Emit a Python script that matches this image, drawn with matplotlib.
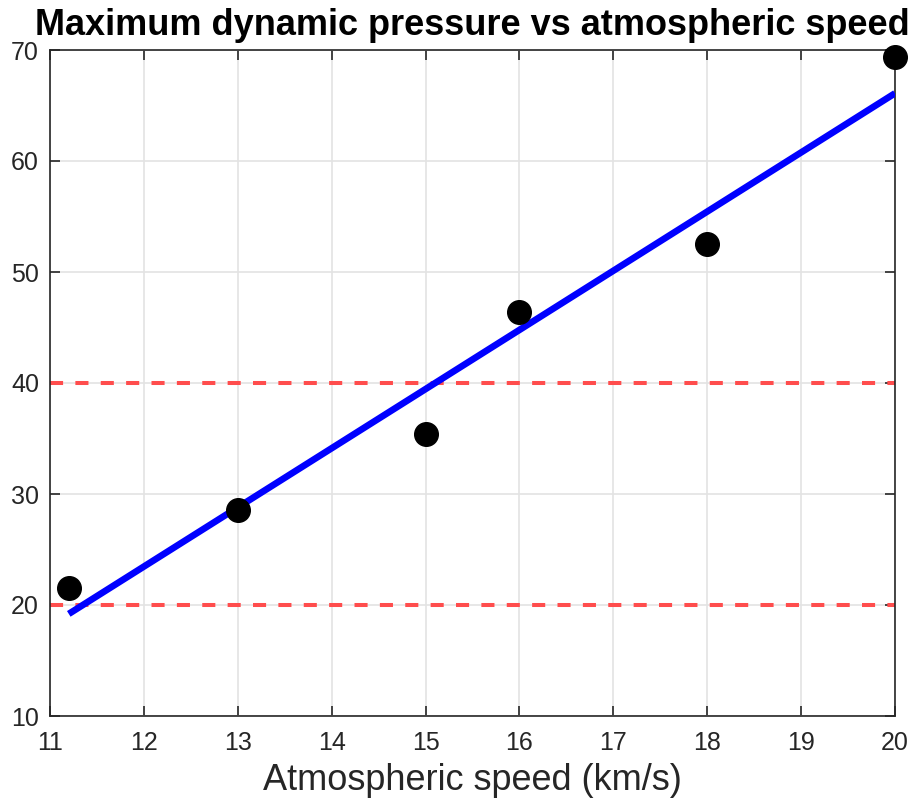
import matplotlib
matplotlib.use("Agg")
import matplotlib.pyplot as plt

speed = [11.2, 13, 15, 16, 18, 20]
pressure = [21.5, 28.6, 35.4, 46.4, 52.5, 69.4]
fit_x = [11.2, 20]
fit_y = [19.2, 66.1]
limit_levels = [20, 40]
xticks = [11, 12, 13, 14, 15, 16, 17, 18, 19, 20]
yticks = [10, 20, 30, 40, 50, 60, 70]

plt.rcParams['font.family'] = ['Liberation Sans', 'DejaVu Sans']

fig = plt.figure(figsize=(9.14, 8.02), dpi=100)
ax = fig.add_axes([50/914, 86/802, 845/914, 666/802])

ax.set_xlim(11, 20)
ax.set_ylim(10, 70)
ax.set_xticks(xticks)
ax.set_yticks(yticks)
ax.grid(True, color='#e3e3e3', linewidth=1.2, zorder=0)
ax.set_axisbelow(True)

for lv in limit_levels:
    ax.axhline(lv, color='#ff4d4d', linewidth=2.9, linestyle=(0, (3.25, 3.05)), zorder=2)

ax.plot(fit_x, fit_y, color='#0000ff', linewidth=4.8, zorder=3, solid_capstyle='butt')
ax.plot(speed, pressure, 'o', color='black', markersize=17, zorder=4, clip_on=False)

for s in ax.spines.values():
    s.set_color('#262626')
    s.set_linewidth(1.2)
ax.tick_params(direction='in', top=True, right=True, length=7, width=1.2,
               color='#262626', labelcolor='#262626', labelsize=18)
ax.tick_params(axis='x', pad=11)
ax.tick_params(axis='y', pad=8)

ax.set_xlabel('Atmospheric speed (km/s)', fontsize=26, color='#262626')
ax.xaxis.set_label_coords(0.5, -0.071)
ax.set_title('Maximum dynamic pressure vs atmospheric speed', fontsize=26,
             fontweight='bold', color='black', pad=11)

fig.savefig('out.png', dpi=100)
